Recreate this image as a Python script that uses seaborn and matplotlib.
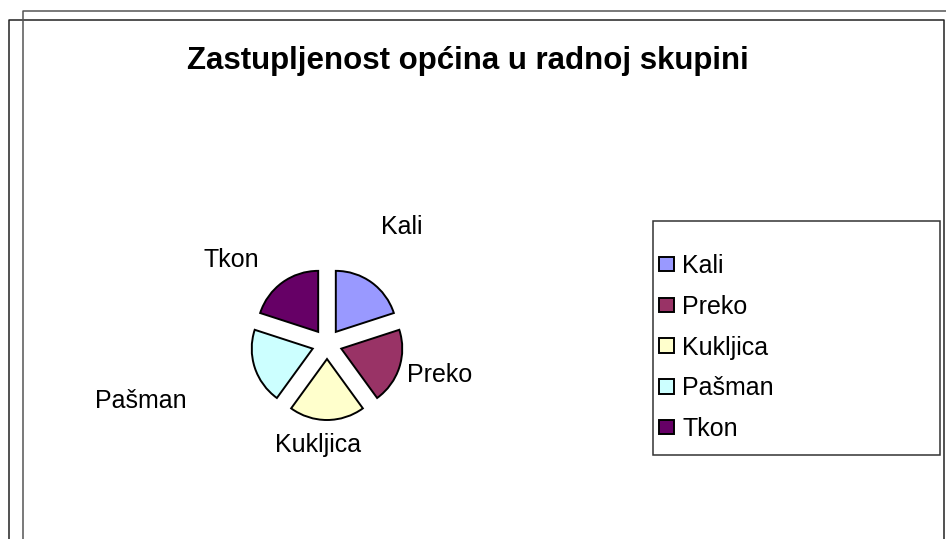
import matplotlib
matplotlib.use("Agg")
import matplotlib.pyplot as plt
from matplotlib.patches import Patch, Rectangle
from matplotlib.lines import Line2D
import seaborn as sns

# data
opcine = ["Kali", "Preko", "Kukljica", "Pašman", "Tkon"]
clanovi = [1, 1, 1, 1, 1]
boje = ["#9999FF", "#993366", "#FFFFCC", "#CCFFFF", "#660066"]
naslov = "Zastupljenost općina u radnoj skupini"

# label positions (pixels, baseline), as in the original chart
label_pos = [(402, 234), (440, 382), (318, 452), (141, 408), (231, 267)]

sns.set_theme(style="white")
plt.rcParams["font.family"] = ["Liberation Sans", "DejaVu Sans"]
plt.rcParams["text.color"] = "black"

W, H = 946, 539
fig = plt.figure(figsize=(W / 100, H / 100), dpi=100)
fig.patch.set_facecolor("white")

ax = fig.add_axes([0, 0, 1, 1])
pal = sns.color_palette(boje)
cx, cy, r = 327, H - 344, 61
ax.pie(clanovi, colors=pal, startangle=90, counterclock=False,
       center=(cx, cy), radius=r, explode=[15] * len(clanovi),
       wedgeprops=dict(edgecolor="black", linewidth=1.4), frame=True)
ax.set_xlim(0, W)
ax.set_ylim(0, H)
ax.set_aspect("equal")
ax.axis("off")

for name, (x, y) in zip(opcine, label_pos):
    ax.text(x, H - y, name, ha="center", va="baseline", fontsize=18)

# frames
fig.add_artist(Line2D([9 / W, 9 / W, 944 / W, 944 / W], [0, 1 - 20 / H, 1 - 20 / H, 0],
                      transform=fig.transFigure, color="#222222", lw=1.1))
fig.add_artist(Line2D([23 / W, 23 / W, 1], [0, 1 - 10.5 / H, 1 - 10.5 / H],
                      transform=fig.transFigure, color="#555555", lw=1.1))

fig.text(468 / W, 1 - 69 / H, naslov, ha="center", va="baseline",
         fontsize=22.5, fontweight="bold")

# legend box
fig.add_artist(Rectangle((653 / W, 1 - 455 / H), 287 / W, 234 / H,
                         transform=fig.transFigure, facecolor="white",
                         edgecolor="#333333", lw=1.1, zorder=1))
handles = [Patch(facecolor=c, edgecolor="black", linewidth=1.4) for c in pal]
leg = fig.legend(handles, opcine, loc="upper left",
                 bbox_to_anchor=(659 / W, 1 - 254 / H),
                 fontsize=18, frameon=False, borderpad=0,
                 labelspacing=0.67, handlelength=0.6, handleheight=0.52,
                 handletextpad=0.32, borderaxespad=0)
leg.set_zorder(3)

fig.savefig("out.png", dpi=100)
